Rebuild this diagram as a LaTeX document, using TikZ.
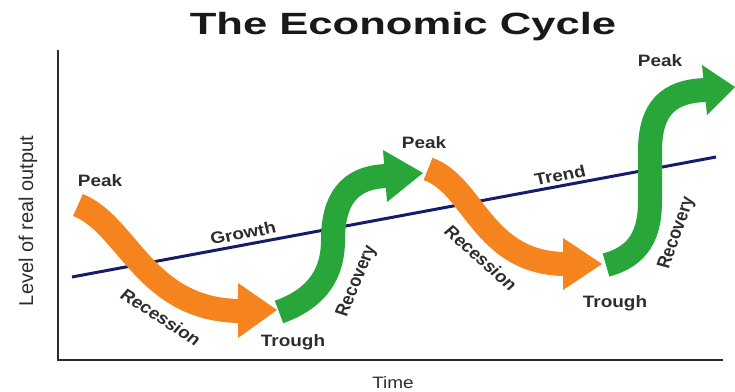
\documentclass[tikz,border=0pt]{standalone}
\usepackage{fontspec}
\setmainfont{Liberation Sans}

\definecolor{cycleorange}{RGB}{245,132,30}
\definecolor{cyclegreen}{RGB}{40,166,58}
\definecolor{trendblue}{RGB}{22,28,105}
\definecolor{axisgray}{RGB}{45,45,45}
\definecolor{labelgray}{RGB}{45,45,45}

\begin{document}
\begin{tikzpicture}[x=1pt,y=1pt,
  axisline/.style={draw=axisgray, line width=2.2pt},
  shaft/.style={line width=24pt},
  lbl/.style={text=labelgray, inner sep=0pt, xscale=1.15,
    font=\fontsize{16.5}{18}\selectfont\bfseries},
]
  % Frame of the picture
  \useasboundingbox (0,0) rectangle (735,391);

  % Title
  \node[anchor=base, inner sep=0pt, xscale=1.42, text=black!90,
    font=\fontsize{30.7}{34}\selectfont\bfseries] (title) at (403,356) {The Economic Cycle};

  % Axes
  \draw[axisline] (58,341) -- (58,31) -- (723,31);

  % Trend line
  \draw[trendblue, line width=3pt] (72,114) -- (716,234);

  % Recession 1 (orange)
  \draw[shaft, cycleorange] (78,186) .. controls (128,166) and (145,81) .. (240,80);
  \fill[cycleorange] (238,108) -- (277,81) -- (238,53) -- cycle;

  % Recovery 1 (green)
  \draw[shaft, cyclegreen] (279,79) .. controls (318,93) and (333,118) .. (333,151)
    .. controls (333,190) and (348,214) .. (387,215);
  \fill[cyclegreen] (383,241) -- (423,218) -- (387,189) -- cycle;

  % Recession 2 (orange)
  \draw[shaft, cycleorange] (428,222) .. controls (474,206) and (482,128) .. (565,127);
  \fill[cycleorange] (563,153) -- (602,127) -- (563,101) -- cycle;

  % Recovery 2 (green)
  \draw[shaft, cyclegreen] (606,126) .. controls (640,135) and (650,158) .. (650,190)
    -- (650,240) .. controls (650,282) and (668,300) .. (706,301);
  \fill[cyclegreen] (702,326) -- (735,304) -- (707,276) -- cycle;

  % Labels
  \node[lbl, anchor=base] (peakA) at (100,204) {Peak};
  \node[lbl, anchor=base] (peakB) at (424,242) {Peak};
  \node[lbl, anchor=base] (peakC) at (660,324) {Peak};
  \node[lbl, anchor=base] (troughA) at (293,45) {Trough};
  \node[lbl, anchor=base] (troughB) at (615,84) {Trough};
  \node[lbl, rotate=11.6] (growth) at (243,158) {Growth};
  \node[lbl, rotate=11.6] (trend) at (560,216) {Trend};
  \node[lbl, rotate=-36.6] (recessA) at (161,74) {Recession};
  \node[lbl, rotate=-45.5] (recessB) at (481,133) {Recession};
  \node[lbl, rotate=70] (recovA) at (357,110) {Recovery};
  \node[lbl, rotate=72.6] (recovB) at (677,158) {Recovery};
  \node[text=labelgray, inner sep=0pt, rotate=90,
    font=\fontsize{20}{22}\selectfont] (levellbl) at (28,170) {Level of real output};
  \node[lbl, anchor=base, font=\fontsize{16.5}{18}\selectfont] (timelbl) at (393,3) {Time};

\end{tikzpicture}
\end{document}
